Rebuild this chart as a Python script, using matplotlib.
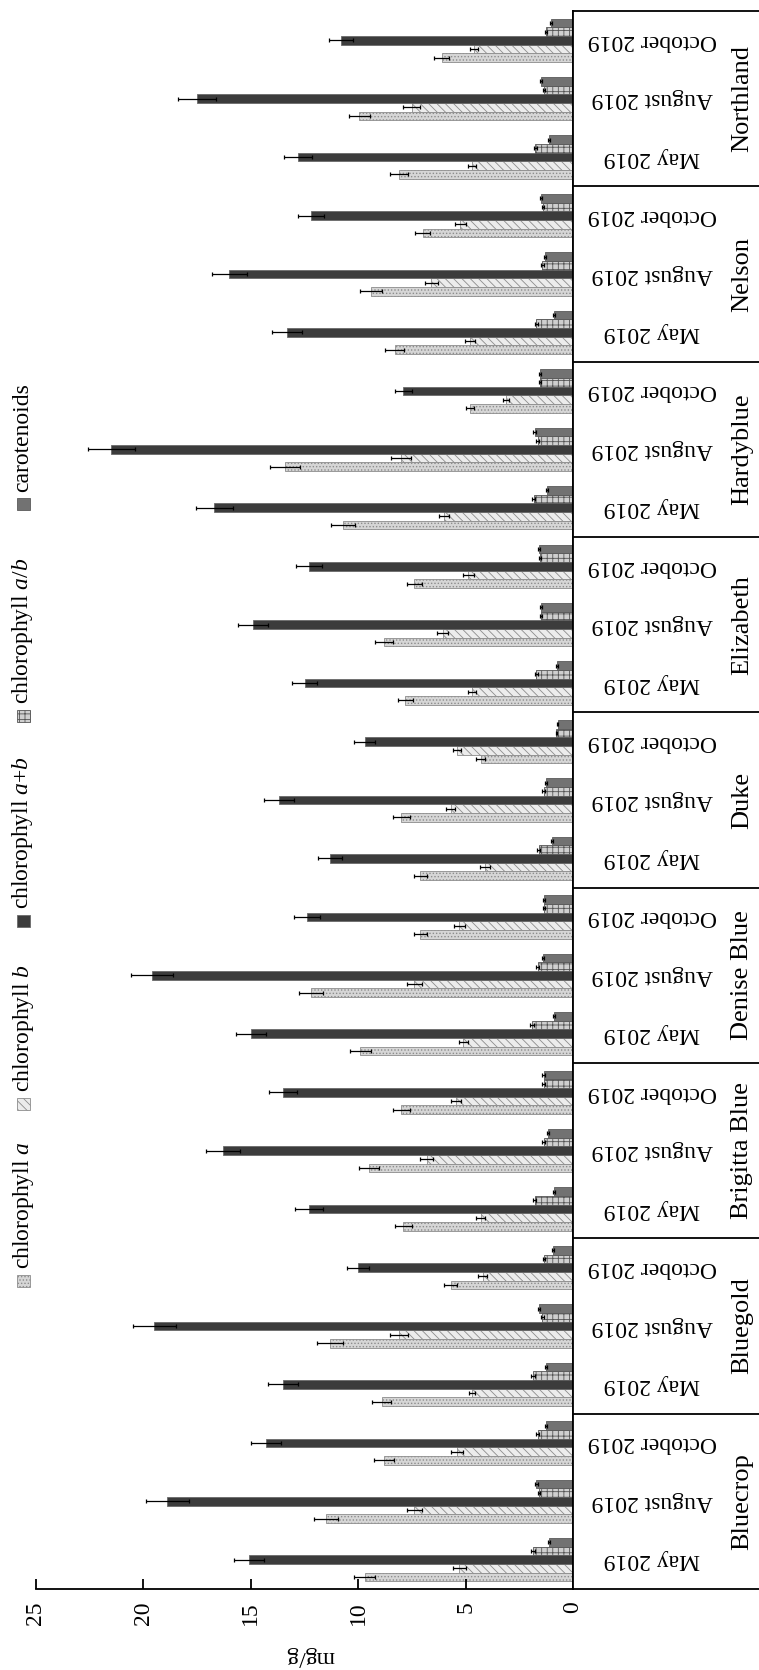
import numpy as np
import matplotlib.pyplot as plt
from matplotlib.patches import Rectangle

plt.rcParams['font.family'] = ['Liberation Serif', 'DejaVu Serif']
plt.rcParams['mathtext.fontset'] = 'custom'
plt.rcParams['mathtext.rm'] = 'Liberation Serif'
plt.rcParams['mathtext.it'] = 'Liberation Serif:italic'
plt.rcParams['hatch.linewidth'] = 0.6

cultivars = ['Bluecrop', 'Bluegold', 'Brigitta Blue', 'Denise Blue', 'Duke',
             'Elizabeth', 'Hardyblue', 'Nelson', 'Northland']
months = ['May 2019', 'August 2019', 'October 2019']

# per cultivar: May, August, October
chl_a = [9.7, 11.5, 8.8,  8.9, 11.3, 5.7,  7.9, 9.5, 8.0,  9.9, 12.2, 7.1,  7.1, 8.0, 4.3,
         7.8, 8.8, 7.4,  10.7, 13.4, 4.8,  8.3, 9.4, 7.0,  8.1, 9.95, 6.1]
chl_a_err = [0.5, 0.55, 0.45,  0.45, 0.6, 0.3,  0.4, 0.45, 0.4,  0.5, 0.55, 0.3,  0.3, 0.4, 0.2,
             0.35, 0.4, 0.35,  0.55, 0.7, 0.2,  0.45, 0.5, 0.35,  0.4, 0.5, 0.35]
chl_b = [5.3, 7.4, 5.4,  4.7, 8.1, 4.2,  4.3, 6.8, 5.45,  5.1, 7.4, 5.3,  4.1, 5.7, 5.4,
         4.7, 6.07, 4.87,  6.0, 8.0, 3.12,  4.8, 6.6, 5.25,  4.7, 7.5, 4.6]
chl_b_err = [0.3, 0.35, 0.3,  0.15, 0.4, 0.2,  0.2, 0.3, 0.25,  0.2, 0.35, 0.25,  0.25, 0.2, 0.2,
             0.2, 0.25, 0.25,  0.25, 0.45, 0.15,  0.25, 0.3, 0.25,  0.2, 0.4, 0.2]
chl_ab = [15.1, 18.9, 14.3,  13.5, 19.5, 10.0,  12.3, 16.3, 13.5,  15.0, 19.6, 12.4,  11.3, 13.7, 9.7,
          12.5, 14.9, 12.3,  16.7, 21.5, 7.9,  13.3, 16.0, 12.2,  12.8, 17.5, 10.8]
chl_ab_err = [0.7, 1.0, 0.7,  0.7, 1.0, 0.5,  0.65, 0.8, 0.65,  0.7, 1.0, 0.6,  0.55, 0.7, 0.5,
              0.6, 0.7, 0.6,  0.85, 1.1, 0.4,  0.7, 0.8, 0.6,  0.65, 0.9, 0.55]
chl_ratio = [1.87, 1.58, 1.65,  1.87, 1.42, 1.34,  1.78, 1.37, 1.37,  1.9, 1.64, 1.34,  1.6, 1.37, 0.77,
             1.7, 1.48, 1.52,  1.82, 1.64, 1.52,  1.7, 1.42, 1.38,  1.76, 1.35, 1.26]
chl_ratio_err = [0.08, 0.06, 0.07,  0.08, 0.06, 0.05,  0.08, 0.06, 0.06,  0.08, 0.07, 0.05,  0.07, 0.05, 0.03,
                 0.07, 0.05, 0.05,  0.07, 0.06, 0.05,  0.06, 0.05, 0.05,  0.07, 0.05, 0.05]
carot = [1.13, 1.7, 1.26,  1.24, 1.58, 0.93,  0.9, 1.16, 1.37,  0.9, 1.4, 1.34,  0.98, 1.25, 0.71,
         0.75, 1.48, 1.6,  1.2, 1.78, 1.52,  0.9, 1.3, 1.5,  1.13, 1.5, 1.04]
carot_err = [0.05, 0.06, 0.05,  0.05, 0.06, 0.04,  0.04, 0.05, 0.05,  0.04, 0.05, 0.05,  0.04, 0.05, 0.03,
             0.03, 0.05, 0.05,  0.05, 0.06, 0.05,  0.04, 0.05, 0.05,  0.05, 0.05, 0.04]

series = [('chlorophyll $a$', chl_a, chl_a_err),
          ('chlorophyll $b$', chl_b, chl_b_err),
          ('chlorophyll $a$+$b$', chl_ab, chl_ab_err),
          ('chlorophyll $a/b$', chl_ratio, chl_ratio_err),
          ('carotenoids', carot, carot_err)]
styles = [dict(facecolor='#d6d6d6', edgecolor='#8c8c8c', hatch='.....'),
          dict(facecolor='#ececec', edgecolor='#8c8c8c', hatch='\\\\\\\\'),
          dict(facecolor='#3c3c3c', edgecolor='#6a6a6a'),
          dict(facecolor='#cfcfcf', edgecolor='#555555', hatch='+++'),
          dict(facecolor='#727272', edgecolor='#5a5a5a')]

W, H = 759, 1670
fig = plt.figure(figsize=(W / 100, H / 100), dpi=100)
ax = fig.add_axes([36 / W, 1 - 1589 / H, (573 - 36) / W, (1589 - 11) / H])
ax2 = fig.add_axes([573 / W, 1 - 1589 / H, (W - 573) / W, (1589 - 11) / H], sharey=ax)

pos = np.arange(len(chl_a))
bh = 0.148
for k, ((label, vals, errs), st) in enumerate(zip(series, styles)):
    y = pos + (k - 2) * bh
    ax.barh(y, vals, height=bh, linewidth=0.6, **st)
    ax.errorbar(vals, y, xerr=errs, fmt='none', ecolor='black',
                elinewidth=0.9, capsize=1.6, capthick=0.9)

ax.set_xlim(25, 0)
ax.set_ylim(-0.5, len(chl_a) - 0.5)
ax.set_xticks([0, 5, 10, 15, 20, 25])
ax.set_yticks([])
ax.tick_params(axis='x', direction='in', length=7, width=1.3, labelsize=17,
               labelrotation=90, pad=9)
for s in ['left', 'top']:
    ax.spines[s].set_visible(False)
for s in ['right', 'bottom']:
    ax.spines[s].set_linewidth(1.3)
ax.set_xlabel('mg/g', fontsize=17, rotation=180)
ax.xaxis.set_label_coords(0.51, -0.043)
ax.xaxis.label.set_va('center')

# cultivar / sampling date panel
ax2.set_xlim(0, 1)
ax2.set_xticks([])
ax2.tick_params(axis='y', left=False, labelleft=False)
ax2.spines['right'].set_visible(False)
for s in ['left', 'top', 'bottom']:
    ax2.spines[s].set_linewidth(1.3)
for g in range(1, len(cultivars)):
    ax2.axhline(3 * g - 0.5, color='black', lw=1.3)
for i in pos:
    ax2.text(0.425, i, months[i % 3], rotation=180, ha='center', va='center', fontsize=17)
for g, name in enumerate(cultivars):
    ax2.text(0.91, 3 * g + 1, name, rotation=90, ha='center', va='center', fontsize=19)

# legend, drawn rotated along the left edge
patch_y = [1287, 1110, 927, 722, 510]
for (label, _, _), st, py in zip(series, styles, patch_y):
    fig.patches.append(Rectangle((17 / W, 1 - py / H), 13 / W, 12 / H,
                                 transform=fig.transFigure, linewidth=0.6, **st))
    fig.text(23 / W, 1 - (py - 18) / H, label, rotation=90, ha='center', va='bottom',
             fontsize=17)

fig.savefig('out.png', dpi=100)
